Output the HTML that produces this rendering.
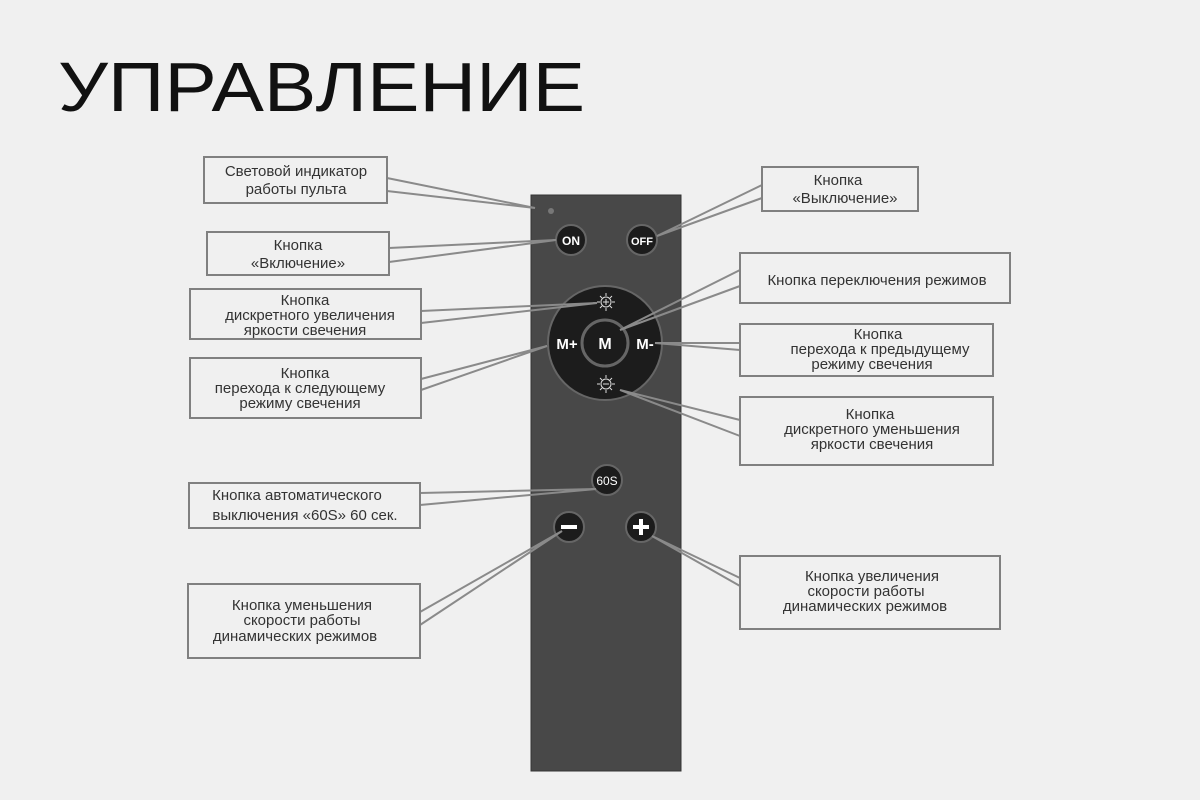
<!DOCTYPE html>
<html><head><meta charset="utf-8"><style>
html,body{margin:0;padding:0;background:#f0f0f0;}
svg{display:block}
text{font-family:"Liberation Sans","DejaVu Sans",sans-serif;}
.l{font-size:15px;fill:#333;text-anchor:middle}
.b{fill:#f0f0f0;stroke:#808080;stroke-width:2}
.c{fill:none;stroke:#8a8a8a;stroke-width:2}
.bt{fill:#fff;font-weight:bold;text-anchor:middle}
</style></head><body>
<svg width="1200" height="800" viewBox="0 0 1200 800" xmlns="http://www.w3.org/2000/svg">
<rect width="1200" height="800" fill="#f0f0f0"/>
<text x="58" y="111" font-size="70" fill="#111" textLength="527" lengthAdjust="spacingAndGlyphs">УПРАВЛЕНИЕ</text>

<rect x="531" y="195" width="150" height="576" fill="#484848" stroke="#333" stroke-width="1"/>
<circle cx="551" cy="211" r="3" fill="#777"/>
<circle cx="571" cy="240" r="15" fill="#1c1c1c" stroke="#666" stroke-width="2"/>
<text class="bt" x="571" y="245" font-size="12">ON</text>
<circle cx="642" cy="240" r="15" fill="#1c1c1c" stroke="#666" stroke-width="2"/>
<text class="bt" x="642" y="245" font-size="11">OFF</text>
<circle cx="605" cy="343" r="57" fill="#1c1c1c" stroke="#666" stroke-width="2"/>
<circle cx="605" cy="343" r="23" fill="#1c1c1c" stroke="#666" stroke-width="3"/>
<text class="bt" x="605" y="349" font-size="16">M</text>
<text class="bt" x="567" y="349" font-size="15">M+</text>
<text class="bt" x="645" y="349" font-size="15">M-</text>
<g stroke="#ddd" stroke-width="1" fill="none">
<circle cx="606" cy="302" r="5"/><path d="M603 302h6M606 299v6M606 293v3M606 308v3M597 302h3M612 302h3M600 296l2 2M612 296l-2 2M600 308l2-2M612 308l-2-2"/>
<circle cx="606" cy="384" r="5"/><path d="M603 384h6M606 375v3M606 390v3M597 384h3M612 384h3M600 378l2 2M612 378l-2 2M600 390l2-2M612 390l-2-2"/>
</g>
<circle cx="607" cy="480" r="15" fill="#1c1c1c" stroke="#666" stroke-width="2"/>
<text x="607" y="485" font-size="12" fill="#fff" text-anchor="middle">60S</text>
<circle cx="569" cy="527" r="15" fill="#1c1c1c" stroke="#666" stroke-width="2"/>
<rect x="561" y="525" width="16" height="4" fill="#fff"/>
<circle cx="641" cy="527" r="15" fill="#1c1c1c" stroke="#666" stroke-width="2"/>
<rect x="633" y="525" width="16" height="4" fill="#fff"/><rect x="639" y="519" width="4" height="16" fill="#fff"/>

<path class="c" d="M387 178L535 208L387 191"/>
<path class="c" d="M389 248L556 240L389 262"/>
<path class="c" d="M421 311L597 303L421 323"/>
<path class="c" d="M421 379L547 346L421 390"/>
<path class="c" d="M762 185L657 236L762 198"/>
<path class="c" d="M740 270L620 330L740 286"/>
<path class="c" d="M740 343L655 343L740 350"/>
<path class="c" d="M740 420L620 390L740 436"/>
<path class="c" d="M420 493L596 489L420 505"/>
<path class="c" d="M420 612L562 531L420 625"/>
<path class="c" d="M740 578L652 536L740 586"/>

<rect class="b" x="204" y="157" width="183" height="46"/>
<text class="l" x="296" y="176">Световой индикатор</text><text class="l" x="296" y="194">работы пульта</text>
<rect class="b" x="207" y="232" width="182" height="43"/>
<text class="l" x="298" y="250">Кнопка</text><text class="l" x="298" y="268">«Включение»</text>
<rect class="b" x="190" y="289" width="231" height="50"/>
<text class="l" x="305" y="305">Кнопка</text><text class="l" x="310" y="320">дискретного увеличения</text><text class="l" x="305" y="335">яркости свечения</text>
<rect class="b" x="190" y="358" width="231" height="60"/>
<text class="l" x="305" y="378">Кнопка</text><text class="l" x="300" y="393">перехода к следующему</text><text class="l" x="300" y="408">режиму свечения</text>

<rect class="b" x="762" y="167" width="156" height="44"/>
<text class="l" x="838" y="185">Кнопка</text><text class="l" x="845" y="203">«Выключение»</text>
<rect class="b" x="740" y="253" width="270" height="50"/>
<text class="l" x="877" y="285">Кнопка переключения режимов</text>
<rect class="b" x="740" y="324" width="253" height="52"/>
<text class="l" x="878" y="339">Кнопка</text><text class="l" x="880" y="354">перехода к предыдущему</text><text class="l" x="872" y="369">режиму свечения</text>
<rect class="b" x="740" y="397" width="253" height="68"/>
<text class="l" x="870" y="419">Кнопка</text><text class="l" x="872" y="434">дискретного уменьшения</text><text class="l" x="872" y="449">яркости свечения</text>

<rect class="b" x="189" y="483" width="231" height="45"/>
<text class="l" x="297" y="500">Кнопка автоматического</text><text class="l" x="305" y="520">выключения «60S» 60 сек.</text>
<rect class="b" x="188" y="584" width="232" height="74"/>
<text class="l" x="302" y="610">Кнопка уменьшения</text><text class="l" x="302" y="625">скорости работы</text><text class="l" x="295" y="641">динамических режимов</text>
<rect class="b" x="740" y="556" width="260" height="73"/>
<text class="l" x="872" y="581">Кнопка увеличения</text><text class="l" x="866" y="596">скорости работы</text><text class="l" x="865" y="611">динамических режимов</text>
</svg>
</body></html>
